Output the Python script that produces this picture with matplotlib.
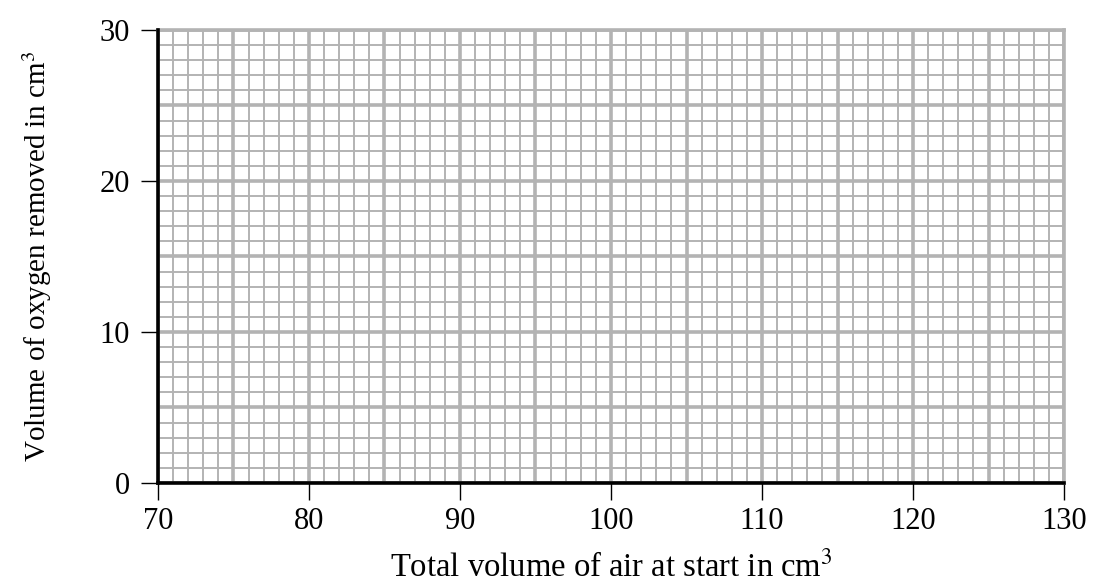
import numpy as np
import matplotlib.pyplot as plt

plt.rcParams['font.family'] = ['Liberation Serif', 'DejaVu Serif']
plt.rcParams['mathtext.fontset'] = 'stix'

# axis ranges and labelled ticks
x_min, x_max = 70, 130
y_min, y_max = 0, 30
x_ticks = [70, 80, 90, 100, 110, 120, 130]
y_ticks = [0, 10, 20, 30]
x_label = 'Total volume of air at start in cm$^3$'
y_label = 'Volume of oxygen removed in cm$^3$'

grid_col = '#b3b3b3'

fig = plt.figure(figsize=(10.94, 5.87), dpi=100)
ax = fig.add_axes([0.1444, 0.1772, 0.8282, 0.7717])
ax.set_xlim(x_min, x_max)
ax.set_ylim(y_min, y_max)

# graph paper: thin lines every 1, thick every 5
fine_x = np.arange(x_min, x_max + 1, 1)
fine_y = np.arange(y_min, y_max + 1, 1)
ax.vlines(fine_x, y_min, y_max, color=grid_col, lw=1.4, zorder=1)
ax.hlines(fine_y, x_min, x_max, color=grid_col, lw=1.4, zorder=1)
ax.vlines(fine_x[::5], y_min, y_max, color=grid_col, lw=2.6, zorder=1)
ax.hlines(fine_y[::5], x_min, x_max, color=grid_col, lw=2.6, zorder=1)

for s in ['top', 'right']:
    ax.spines[s].set_color(grid_col)
    ax.spines[s].set_linewidth(2.6)
for s in ['left', 'bottom']:
    ax.spines[s].set_color('black')
    ax.spines[s].set_linewidth(2.6)
    ax.spines[s].set_zorder(3)

ax.set_xticks(x_ticks)
ax.set_yticks(y_ticks)
ax.tick_params(axis='x', length=12, width=1, labelsize=22, pad=5)
ax.tick_params(axis='y', length=12, width=1, labelsize=22, pad=8)

ax.set_xlabel(x_label, fontsize=23.5, labelpad=11)
ax.set_ylabel(y_label, fontsize=21, labelpad=33)

fig.savefig('out.png', dpi=100)
